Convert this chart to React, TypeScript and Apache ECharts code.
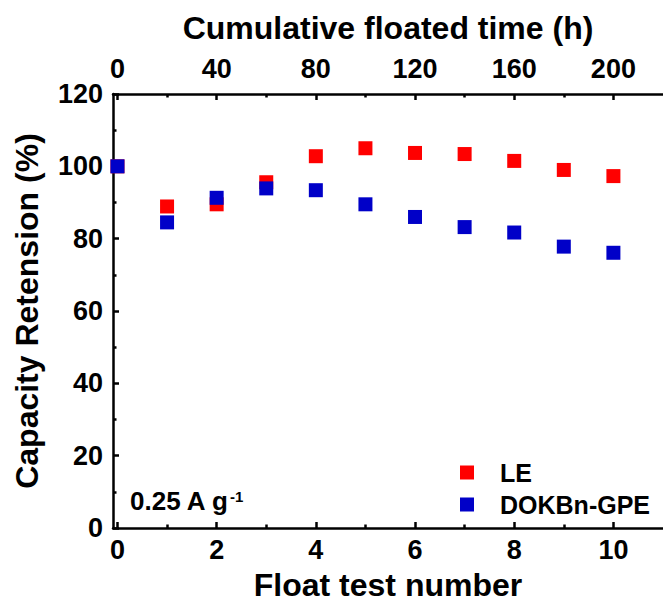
import React, { useEffect, useRef } from "react";
import * as echarts from "echarts";

const testNumbers = [0, 1, 2, 3, 4, 5, 6, 7, 8, 9, 10];
const leValues = [100, 88.9, 89.5, 95.6, 102.8, 105.0, 103.7, 103.4, 101.5, 99.0, 97.3];
const gpeValues = [100, 84.5, 91.3, 93.9, 93.4, 89.5, 86.0, 83.2, 81.7, 77.8, 76.1];
const bottomTicks = [0, 2, 4, 6, 8, 10];
const bottomMinorTicks = [1, 3, 5, 7, 9];
const topTicks = [0, 40, 80, 120, 160, 200];
const topMinorTicks = [20, 60, 100, 140, 180];
const yMinorTicks = [10, 30, 50, 70, 90, 110];
const hoursPerTest = 20;

const FONT = "'Liberation Sans', Arial, Helvetica, sans-serif";

export default function App() {
  const ref = useRef<HTMLDivElement>(null);
  useEffect(() => {
    if (!ref.current) return;
    const chart = echarts.init(ref.current, undefined, { renderer: "svg" });
    const xMin = -0.09;
    const xMax = 11;
    const lineStyle = { color: "#000", width: 2.5 };
    const majorTick = { show: true, inside: true, length: 6, lineStyle: { color: "#000", width: 2.5 } };
    const minorTickStyle = { show: true, inside: true, length: 3.5, lineStyle: { color: "#000", width: 2.5 } };
    const labelFont = { fontFamily: FONT, fontWeight: "bold" as const, fontSize: 27, color: "#000" };
    chart.setOption({
      animation: false,
      backgroundColor: "#fff",
      grid: { left: 113, right: -3, top: 94, bottom: 71 },
      legend: {
        orient: "vertical",
        left: 455,
        top: 454,
        itemWidth: 14,
        itemHeight: 14,
        itemGap: 5,
        icon: "rect",
        data: ["LE", "DOKBn-GPE"],
        textStyle: {
          fontFamily: FONT,
          fontWeight: "bold",
          fontSize: 25,
          color: "#000",
          lineHeight: 27,
          padding: [0, 0, 0, 21],
        },
      },
      xAxis: [
        {
          type: "value",
          position: "bottom",
          min: xMin,
          max: xMax,
          name: "Float test number",
          nameLocation: "middle",
          nameGap: 41,
          nameTextStyle: { fontFamily: FONT, fontWeight: "bold", fontSize: 32, color: "#000", verticalAlign: "top" },
          axisLine: { show: true, onZero: false, lineStyle },
          axisTick: { ...majorTick, customValues: bottomTicks },
          axisLabel: { ...labelFont, margin: 8, customValues: bottomTicks },
          splitLine: { show: false },
        },
        {
          type: "value",
          position: "top",
          min: xMin * hoursPerTest,
          max: xMax * hoursPerTest,
          name: "Cumulative floated time (h)",
          nameLocation: "middle",
          nameGap: 50,
          nameTextStyle: { fontFamily: FONT, fontWeight: "bold", fontSize: 32, color: "#000", verticalAlign: "bottom" },
          axisLine: { show: true, onZero: false, lineStyle },
          axisTick: { ...majorTick, customValues: topTicks },
          axisLabel: { ...labelFont, margin: 12, customValues: topTicks },
          splitLine: { show: false },
        },
        {
          type: "value",
          position: "bottom",
          min: xMin,
          max: xMax,
          axisLine: { show: false, onZero: false },
          axisTick: { ...minorTickStyle, customValues: bottomMinorTicks },
          axisLabel: { show: false, customValues: bottomMinorTicks },
          splitLine: { show: false },
        },
        {
          type: "value",
          position: "top",
          min: xMin * hoursPerTest,
          max: xMax * hoursPerTest,
          axisLine: { show: false, onZero: false },
          axisTick: { ...minorTickStyle, customValues: topMinorTicks },
          axisLabel: { show: false, customValues: topMinorTicks },
          splitLine: { show: false },
        },
      ],
      yAxis: [
        {
          type: "value",
          min: 0,
          max: 120,
          interval: 20,
          name: "Capacity Retension (%)",
          nameLocation: "middle",
          nameGap: 70,
          nameTextStyle: { fontFamily: FONT, fontWeight: "bold", fontSize: 32, color: "#000" },
          axisLine: { show: true, onZero: false, lineStyle },
          axisTick: majorTick,
          axisLabel: { ...labelFont, margin: 10 },
          splitLine: { show: false },
        },
        {
          type: "value",
          position: "left",
          min: 0,
          max: 120,
          axisLine: { show: false, onZero: false },
          axisTick: { ...minorTickStyle, customValues: yMinorTicks },
          axisLabel: { show: false, customValues: yMinorTicks },
          splitLine: { show: false },
        },
      ],
      graphic: [
        {
          type: "text",
          left: 130,
          top: 488,
          style: { text: "0.25 A g", fontFamily: FONT, fontWeight: "bold", fontSize: 26, fill: "#000" },
        },
        {
          type: "text",
          left: 230,
          top: 489,
          style: { text: "-1", fontFamily: FONT, fontWeight: "bold", fontSize: 15, fill: "#000" },
        },
      ],
      series: [
        {
          name: "LE",
          type: "scatter",
          symbol: "rect",
          symbolSize: 14,
          itemStyle: { color: "#FF0000", opacity: 1 },
          data: testNumbers.map((x, i) => [x, leValues[i]]),
        },
        {
          name: "DOKBn-GPE",
          type: "scatter",
          symbol: "rect",
          symbolSize: 14,
          itemStyle: { color: "#0000C8", opacity: 1 },
          data: testNumbers.map((x, i) => [x, gpeValues[i]]),
        },
      ],
    });
    return () => chart.dispose();
  }, []);
  return <div ref={ref} style={{ width: 663, height: 606, position: "absolute", left: 0, top: 0 }} />;
}
